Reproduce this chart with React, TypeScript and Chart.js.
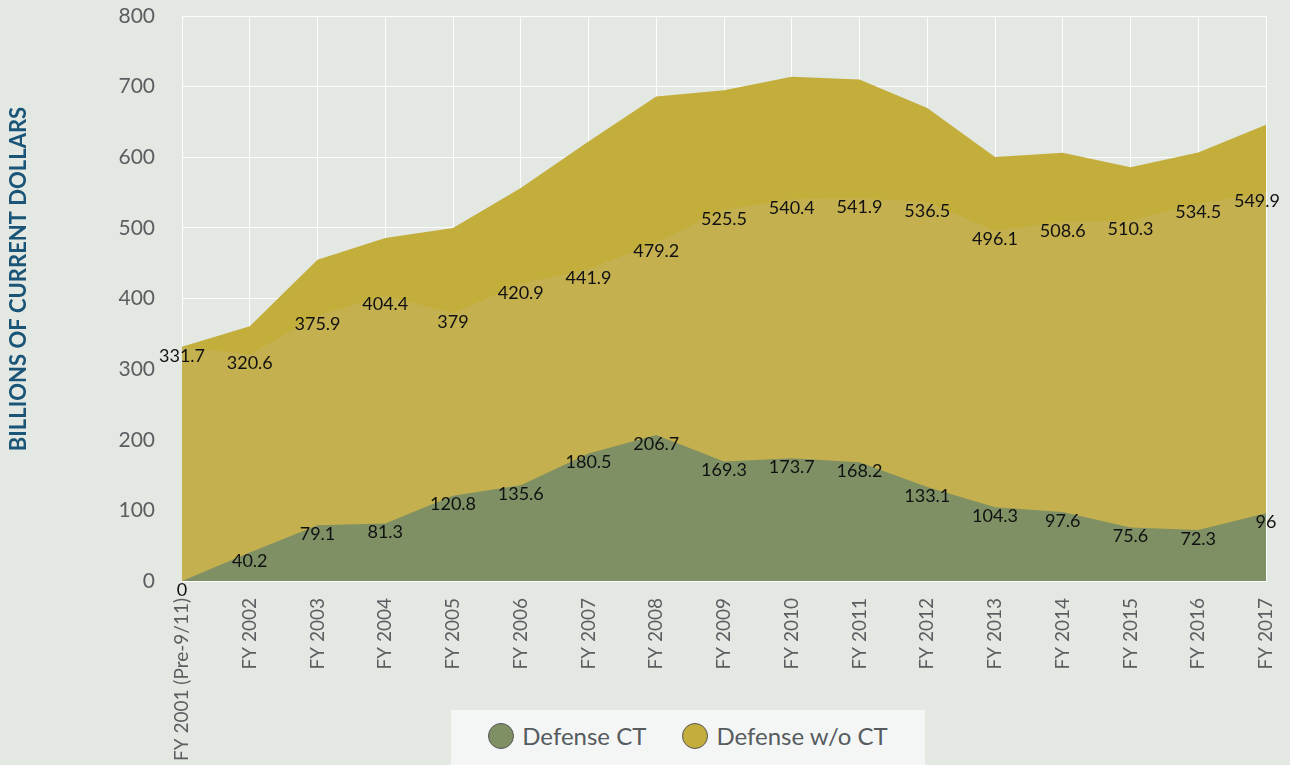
import React, { useEffect, useRef } from 'react';
import { Chart, registerables } from 'chart.js';

Chart.register(...registerables);

const categories = [
  'FY 2001 (Pre-9/11)', 'FY 2002', 'FY 2003', 'FY 2004', 'FY 2005', 'FY 2006',
  'FY 2007', 'FY 2008', 'FY 2009', 'FY 2010', 'FY 2011', 'FY 2012', 'FY 2013',
  'FY 2014', 'FY 2015', 'FY 2016', 'FY 2017',
];
const defenseCT = [0, 40.2, 79.1, 81.3, 120.8, 135.6, 180.5, 206.7, 169.3, 173.7, 168.2, 133.1, 104.3, 97.6, 75.6, 72.3, 96];
const defenseWithoutCT = [331.7, 320.6, 375.9, 404.4, 379, 420.9, 441.9, 479.2, 525.5, 540.4, 541.9, 536.5, 496.1, 508.6, 510.3, 534.5, 549.9];
const yMin = 0;
const yMax = 800;
const yStep = 100;
const yTitle = 'BILLIONS OF CURRENT DOLLARS';
const seriesNames = ['Defense CT', 'Defense w/o CT'];

const FONT = 'Lato, "Open Sans", sans-serif';
const BG = '#e3e8e3';
const GREEN = '#7f9065';
const YELLOW = '#c3ae3c';
const YELLOW_LIGHT = '#c4b04e';
const GRID = 'rgba(255,255,255,0.9)';
const TICK = '#5b5e60';
const TITLE_COLOR = '#1a5577';

const overlayPlugin = {
  id: 'overlay',
  afterDraw(chart: any) {
    const ctx = chart.ctx as CanvasRenderingContext2D;
    // axis title
    ctx.save();
    ctx.translate(19, 279);
    ctx.rotate(-Math.PI / 2);
    ctx.font = `bold 22px ${FONT}`;
    ctx.fillStyle = TITLE_COLOR;
    ctx.textAlign = 'center';
    ctx.textBaseline = 'middle';
    ctx.fillText(yTitle, 0, 0);
    ctx.restore();

    // data labels
    ctx.save();
    ctx.font = `18px ${FONT}`;
    ctx.fillStyle = '#111111';
    ctx.textAlign = 'center';
    ctx.textBaseline = 'middle';
    const maxRight = chart.width - 10;
    const drawFor = (dsIndex: number, values: number[]) => {
      const meta = chart.getDatasetMeta(dsIndex);
      meta.data.forEach((pt: any, i: number) => {
        const text = String(values[i]);
        const w = ctx.measureText(text).width;
        let x = pt.x;
        if (x + w / 2 > maxRight) x = maxRight - w / 2;
        ctx.fillText(text, x, pt.y + 9);
      });
    };
    drawFor(0, defenseCT);
    drawFor(1, defenseWithoutCT);
    ctx.restore();
  },
};

const zeroPadding = (s: any) => {
  s.paddingTop = 0;
  s.paddingBottom = 0;
  s.paddingLeft = 0;
  s.paddingRight = 0;
};

export default function App() {
  const ref = useRef<HTMLCanvasElement>(null);

  useEffect(() => {
    if (!ref.current) return;
    const chart = new Chart(ref.current, {
      type: 'line',
      data: {
        labels: categories,
        datasets: [
          {
            label: seriesNames[0],
            data: defenseCT,
            backgroundColor: GREEN,
            borderColor: 'transparent',
            borderWidth: 0,
            pointRadius: 0,
            fill: 'origin',
            stack: 'total',
            tension: 0,
          },
          {
            label: seriesNames[1] + ' (base)',
            data: defenseWithoutCT,
            backgroundColor: YELLOW_LIGHT,
            borderColor: 'transparent',
            borderWidth: 0,
            pointRadius: 0,
            fill: 'origin',
            stack: 'base',
            tension: 0,
          },
          {
            label: seriesNames[1],
            data: defenseWithoutCT,
            backgroundColor: YELLOW,
            borderColor: 'transparent',
            borderWidth: 0,
            pointRadius: 0,
            fill: 'origin',
            stack: 'total',
            tension: 0,
          },
        ],
      },
      options: {
        responsive: false,
        animation: false,
        devicePixelRatio: 1,
        layout: { padding: { top: 16, right: 24, left: 0, bottom: 0 } },
        plugins: {
          legend: { display: false },
          tooltip: { enabled: false },
        },
        scales: {
          x: {
            z: 1,
            grid: { color: GRID, drawTicks: false, lineWidth: 1 },
            border: { color: GRID },
            ticks: {
              autoSkip: false,
              maxRotation: 90,
              minRotation: 90,
              padding: 17,
              color: TICK,
              font: { family: FONT, size: 19 },
            },
            afterFit: (s: any) => { s.height = 184; zeroPadding(s); },
          },
          y: {
            z: 1,
            stacked: true,
            min: yMin,
            max: yMax,
            grid: { color: GRID, drawTicks: false, lineWidth: 1 },
            border: { color: GRID },
            ticks: {
              stepSize: yStep,
              padding: 27,
              color: TICK,
              font: { family: FONT, size: 21 },
            },
            afterFit: (s: any) => { s.width = 182; zeroPadding(s); },
          },
        },
      } as any,
      plugins: [overlayPlugin],
    });
    return () => chart.destroy();
  }, []);

  return (
    <div style={{ position: 'fixed', left: 0, top: 0, width: 1290, height: 765, background: BG, overflow: 'hidden' }}>
      <canvas ref={ref} width={1290} height={765} style={{ display: 'block', width: 1290, height: 765 }} />
      <div
        style={{
          position: 'absolute', left: 451, top: 710, width: 474, height: 60,
          background: '#f4f6f5', display: 'flex', alignItems: 'center', justifyContent: 'center',
          fontFamily: FONT, fontSize: 24, color: '#565b5e', paddingBottom: 9, boxSizing: 'border-box',
        }}
      >
        {[GREEN, YELLOW].map((c, i) => (
          <div key={i} style={{ display: 'flex', alignItems: 'center', marginLeft: i === 0 ? 0 : 36 }}>
            <span style={{ display: 'inline-block', width: 24, height: 24, borderRadius: '50%', background: c, border: '1px solid #555', marginRight: 8 }} />
            <span>{seriesNames[i]}</span>
          </div>
        ))}
      </div>
    </div>
  );
}
